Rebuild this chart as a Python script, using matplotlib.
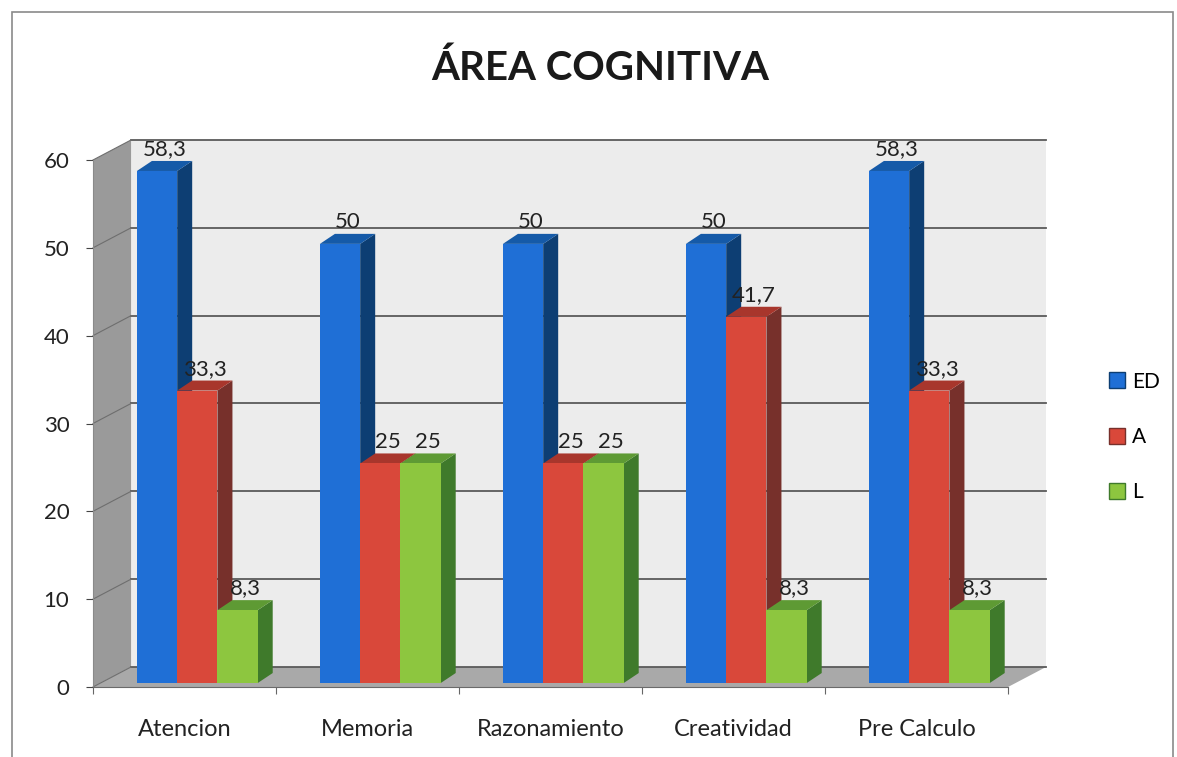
import numpy as np
import matplotlib
matplotlib.use('Agg')
import matplotlib.pyplot as plt
from matplotlib.patches import Polygon, Patch, Rectangle

plt.rcParams['font.family'] = ['Lato', 'DejaVu Sans']

# dados
categorias = ['Atencion', 'Memoria', 'Razonamiento', 'Creatividad', 'Pre Calculo']
series = ['ED', 'A', 'L']
ed = [58.3, 50, 50, 50, 58.3]
a = [33.3, 25, 25, 41.7, 33.3]
l = [8.3, 25, 25, 8.3, 8.3]
yticks = [0, 10, 20, 30, 40, 50, 60]

valores = [ed, a, l]
# frente, topo, lado
cores = [('#1f6fd6', '#155aa8', '#0d3e73'),
         ('#d9483a', '#a8362c', '#77302b'),
         ('#8dc63f', '#5e9a34', '#3f7a2b')]

# profundidade do "3d"
wdx, wdy = 0.208, 2.28     # parede
bdx, bdy = 0.082, 1.14     # barra
fx, fy = 0.04, 0.45        # posicao da barra dentro da profundidade
w = 0.22


def rotulo(v):
    return ('%g' % v).replace('.', ',')


fig = plt.figure(figsize=(11.77, 7.57), dpi=100)
ax = fig.add_axes([93/1177, 70/757, 915/1177, 527/757])
n = len(categorias)
ax.set_xlim(0, n)
ax.set_ylim(0, 60)

# paredes
ax.add_patch(Polygon([(wdx, wdy), (n + wdx, wdy), (n + wdx, 60 + wdy), (wdx, 60 + wdy)],
                     closed=True, fc='#ececec', ec='none', zorder=0.5, clip_on=False))
ax.add_patch(Polygon([(0, 0), (wdx, wdy), (wdx, 60 + wdy), (0, 60)],
                     closed=True, fc='#9a9a9a', ec='none', zorder=0.6, clip_on=False))
ax.add_patch(Polygon([(0, 0), (n, 0), (n + wdx, wdy), (wdx, wdy)],
                     closed=True, fc='#a9a9a9', ec='none', zorder=0.7, clip_on=False))
for t in yticks:
    ax.plot([wdx, n + wdx], [t + wdy, t + wdy], color='#5a5a5a', lw=1.3, zorder=1, clip_on=False)
    ax.plot([0, wdx], [t, t + wdy], color='#6e6e6e', lw=0.8, zorder=1, clip_on=False)

# barras
for k in range(len(series)):
    fc, tc, sc = cores[k]
    xs = np.arange(n) + 0.53 + (k - 1) * w - w / 2 + fx
    vals = np.array(valores[k])
    for i in range(n):
        x0 = xs[i]
        x1 = x0 + w
        v = vals[i]
        z = 3 + i * 3 + k * 0.3
        ax.add_patch(Polygon([(x1, fy), (x1 + bdx, fy + bdy), (x1 + bdx, v + fy + bdy), (x1, v + fy)],
                             closed=True, fc=sc, ec='none', zorder=z))
        ax.add_patch(Polygon([(x0, v + fy), (x0 + bdx, v + fy + bdy), (x1 + bdx, v + fy + bdy), (x1, v + fy)],
                             closed=True, fc=tc, ec='none', zorder=z))
        ax.bar(x0, v, width=w, bottom=fy, align='edge', color=fc, edgecolor='none', zorder=z + 0.1)
        ax.text(x0 + w / 2 + bdx / 2, v + fy + bdy + 0.2, rotulo(v), ha='center', va='bottom',
                fontsize=16, color='#222222', zorder=30)

# eixos
for s in ['top', 'right']:
    ax.spines[s].set_visible(False)
ax.spines['left'].set_color('#8a8a8a')
ax.spines['bottom'].set_color('#6a6a6a')
ax.set_yticks(yticks)
ax.set_yticklabels([str(t) for t in yticks], fontsize=16, color='#222222')
ax.tick_params(axis='y', direction='out', length=5, color='#444444', pad=12)
ax.set_xticks(np.arange(n + 1))
ax.set_xticklabels([])
ax.tick_params(axis='x', direction='out', length=5, color='#666666')
ax.set_xticks(np.arange(n) + 0.5, minor=True)
ax.set_xticklabels(categorias, minor=True, fontsize=17, color='#222222')
ax.tick_params(axis='x', which='minor', length=0, pad=23)
ax.patch.set_visible(False)

fig.text(600/1177, 1 - 68/757, 'ÁREA COGNITIVA', ha='center', va='center',
         fontsize=29, fontweight='bold', color='#1a1a1a')

handles = [Patch(facecolor=cores[k][0], edgecolor=cores[k][2], label=series[k]) for k in range(len(series))]
fig.legend(handles=handles, loc='center left', bbox_to_anchor=(1090/1177, 1 - 437/757),
           frameon=False, fontsize=15, handlelength=0.8, handleheight=0.8,
           handletextpad=0.3, labelspacing=1.7)

fig.add_artist(Rectangle((12/1177, -0.05), (1173 - 12)/1177, 1.05 - 12/757,
                         transform=fig.transFigure, fill=False, ec='#8a8a8a', lw=1.2))

fig.savefig('out.png', dpi=100)
